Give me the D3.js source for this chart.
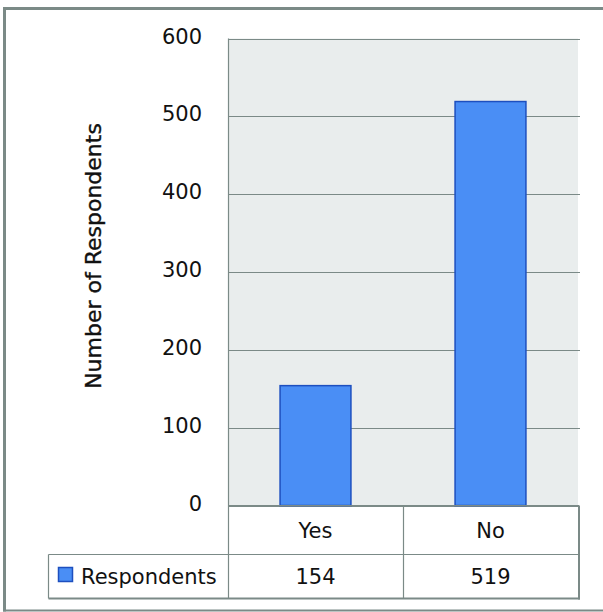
<!DOCTYPE html>
<html>
<head>
<meta charset="utf-8">
<script src="https://cdn.jsdelivr.net/npm/d3@7"></script>
<style>
  html, body { margin: 0; padding: 0; background: #fff; }
  svg { display: block; font-family: "DejaVu Sans", sans-serif; }
</style>
</head>
<body>
<svg id="chart" width="603" height="612"></svg>
<script>
// Survey answers and counts
const categories = ["Yes", "No"];
const respondents = [154, 519];
const seriesName = "Respondents";
const yTicks = [0, 100, 200, 300, 400, 500, 600];
const yTitle = "Number of Respondents";

const svg = d3.select("#chart");
const gridColor = "#7b8a87";
const barFill = "#4a8ef5";
const barStroke = "#1d4fbf";

const plot = { left: 228, right: 578, top: 38.5, bottom: 505.5 };

const x = d3.scaleBand().domain(categories).range([plot.left, plot.right]);
const y = d3.scaleLinear().domain([0, 600]).range([plot.bottom, plot.top]);

// outer frame
svg.append("line").attr("x1", 4.5).attr("x2", 4.5).attr("y1", 7).attr("y2", 611.5)
  .attr("stroke", gridColor).attr("stroke-width", 3);
svg.append("line").attr("x1", 3).attr("x2", 603).attr("y1", 8.5).attr("y2", 8.5)
  .attr("stroke", gridColor).attr("stroke-width", 3);
svg.append("line").attr("x1", 3).attr("x2", 603).attr("y1", 610.5).attr("y2", 610.5)
  .attr("stroke", gridColor).attr("stroke-width", 2);

// plot background
svg.append("rect")
  .attr("x", plot.left).attr("y", plot.top)
  .attr("width", plot.right - plot.left).attr("height", plot.bottom - plot.top)
  .attr("fill", "#e9eded");

// gridlines
svg.append("g").selectAll("line").data(yTicks).join("line")
  .attr("x1", plot.left).attr("x2", plot.right + 2)
  .attr("y1", d => Math.round(y(d)) + 0.5).attr("y2", d => Math.round(y(d)) + 0.5)
  .attr("stroke", gridColor).attr("stroke-width", 1.2);

// left plot edge
svg.append("line").attr("x1", plot.left + 0.5).attr("x2", plot.left + 0.5)
  .attr("y1", plot.top).attr("y2", 598)
  .attr("stroke", gridColor).attr("stroke-width", 1.2);

// y tick labels
svg.append("g").selectAll("text").data(yTicks).join("text")
  .attr("x", 202).attr("y", d => y(d) - 1)
  .attr("text-anchor", "end").attr("dominant-baseline", "middle")
  .attr("font-size", 21).attr("fill", "#111")
  .text(d => d);

// y axis title
svg.append("text")
  .attr("transform", "translate(101,256) rotate(-90)")
  .attr("text-anchor", "middle")
  .attr("font-size", 22).attr("fill", "#111")
  .attr("stroke", "#111").attr("stroke-width", 0.35)
  .text(yTitle);

// bars
const barW = x.bandwidth() * 0.405;
svg.append("g").selectAll("rect").data(categories).join("rect")
  .attr("x", d => x(d) + (x.bandwidth() - barW) / 2)
  .attr("y", (d, i) => y(respondents[i]))
  .attr("width", barW)
  .attr("height", (d, i) => y(0) - y(respondents[i]))
  .attr("fill", barFill).attr("stroke", barStroke).attr("stroke-width", 1.5);

// data table
const row1 = { top: 505.5, bottom: 554.5 };
const row2 = { top: 554.5, bottom: 598.5 };
const legendLeft = 48.5;
const tbl = svg.append("g").attr("stroke", gridColor).attr("fill", "none");
// horizontal rules
tbl.append("line").attr("x1", plot.left).attr("x2", plot.right + 1).attr("y1", row1.top).attr("y2", row1.top).attr("stroke-width", 1.2);
tbl.append("line").attr("x1", legendLeft).attr("x2", plot.right + 1).attr("y1", row2.top).attr("y2", row2.top).attr("stroke-width", 1.2);
tbl.append("line").attr("x1", legendLeft).attr("x2", plot.right + 2).attr("y1", row2.bottom).attr("y2", row2.bottom).attr("stroke-width", 2);
// vertical rules
tbl.append("line").attr("x1", legendLeft).attr("x2", legendLeft).attr("y1", row2.top).attr("y2", row2.bottom).attr("stroke-width", 1.2);
categories.forEach((c, i) => {
  if (i > 0) {
    tbl.append("line").attr("x1", x(c) + 0.5).attr("x2", x(c) + 0.5)
      .attr("y1", row1.top).attr("y2", row2.bottom).attr("stroke-width", 1.2);
  }
});
tbl.append("line").attr("x1", plot.right + 1).attr("x2", plot.right + 1)
  .attr("y1", row1.top).attr("y2", row2.bottom + 1).attr("stroke-width", 2);

// category labels
svg.append("g").selectAll("text").data(categories).join("text")
  .attr("x", d => x(d) + x.bandwidth() / 2).attr("y", (row1.top + row1.bottom) / 2 + 1.5)
  .attr("text-anchor", "middle").attr("dominant-baseline", "middle")
  .attr("font-size", 21).attr("fill", "#111")
  .text(d => d);

// values
svg.append("g").selectAll("text").data(respondents).join("text")
  .attr("x", (d, i) => x(categories[i]) + x.bandwidth() / 2).attr("y", (row2.top + row2.bottom) / 2 + 1)
  .attr("text-anchor", "middle").attr("dominant-baseline", "middle")
  .attr("font-size", 21).attr("fill", "#111")
  .text(d => d);

// legend key
svg.append("rect").attr("x", 58.5).attr("y", 567.5).attr("width", 14).attr("height", 14)
  .attr("fill", barFill).attr("stroke", barStroke).attr("stroke-width", 1.5);
svg.append("text")
  .attr("x", 81).attr("y", (row2.top + row2.bottom) / 2 + 1)
  .attr("dominant-baseline", "middle")
  .attr("font-size", 21).attr("fill", "#111")
  .text(seriesName);
</script>
</body>
</html>
